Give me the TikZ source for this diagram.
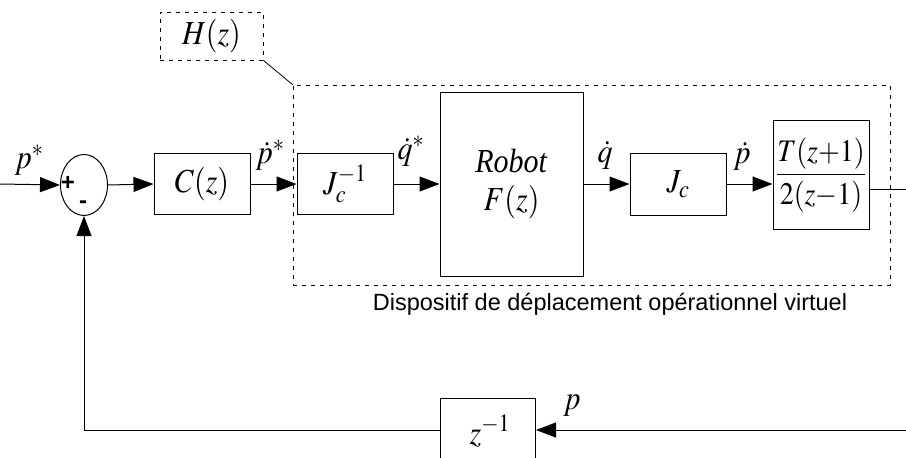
\documentclass[tikz,border=0pt]{standalone}
\usepackage{mathptmx}
\usepackage{graphicx}
\usepackage{fontspec}
\setmainfont{Liberation Serif}
\newfontfamily\arialfont{Liberation Sans}
\usetikzlibrary{shapes.geometric,arrows.meta}
\newcommand{\tallbox}[1]{\scalebox{1}[1.12]{#1}}
\tikzset{
  blk/.style={draw, line width=1pt, minimum width=96pt, minimum height=61pt, inner sep=0pt, font=\fontsize{30}{36}\selectfont},
  arr/.style={-{Triangle[length=20pt,width=15pt]}, line width=1pt},
  ln/.style={line width=1pt},
  lab/.style={inner sep=0pt, font=\fontsize{30}{36}\selectfont},
  dbox/.style={draw, line width=0.9pt, dash pattern=on 4pt off 5pt},
  sgn/.style={inner sep=0pt, font=\arialfont\bfseries\fontsize{24}{28}\selectfont}
}
\begin{document}
\begin{tikzpicture}[x=1pt,y=-1pt]
\useasboundingbox (0,0) rectangle (906,458);
\clip (0,0) rectangle (906,458);
% dashed frame and H(z)
\node[dbox, minimum width=597pt, minimum height=200pt, inner sep=0pt] (frame) at (591.5,185) {};
\node[dbox, minimum width=103pt, minimum height=48pt, inner sep=0pt, font=\fontsize{30}{36}\selectfont] (H) at (211.5,36) {\tallbox{$H(z)$}};
\draw[line width=0.8pt] (H.south east) -- (frame.north west);
\node[inner sep=0pt, font=\arialfont\fontsize{23.5}{28}\selectfont, anchor=base] (cap) at (610,310) {Dispositif de déplacement opérationnel virtuel};
% blocks
\node[draw, ellipse, line width=1pt, minimum width=47pt, minimum height=61pt, inner sep=0pt] (sum) at (84,185) {};
\node[sgn] (plus) at (68,183) {+};
\node[sgn] (minus) at (83,205) {-};
\node[blk] (C) at (202,184) {\tallbox{$C(z)$}};
\node[blk] (Ji) at (345,184) {\tallbox{$J_c^{-1}$}};
\node[blk, minimum width=143pt, minimum height=184pt, align=center] (R) at (511.5,184) {\tallbox{\textit{Robot}}\\[2pt]\tallbox{$F(z)$}};
\node[blk, minimum height=62pt] (Jc) at (678,184) {\tallbox{$J_c$}};
\node[blk, minimum height=109pt, font=\fontsize{28}{34}\selectfont] (T) at (821,175) {\tallbox{$\displaystyle\frac{T(z{+}1)}{2(z{-}1)}$}};
\node[blk, minimum width=95pt, minimum height=84pt, anchor=north] (D) at (488,398) {};
\node[lab] (Dt) at (490,431) {\tallbox{$z^{-1}$}};
% coordinates
\coordinate (in) at (0,184);
\coordinate (out) at (906,189);
\coordinate (fb) at (906,430);
% connectors
\draw[arr] (in) -- (sum.west);
\draw[arr] (sum.east) -- (C.west);
\draw[arr] (C.east) -- (Ji.west);
\draw[arr] (Ji.east) -- (R.west |- Ji.east);
\draw[arr] (R.east |- Jc.west) -- (Jc.west);
\draw[arr] (Jc.east) -- (T.west |- Jc.east);
\draw[ln] (T.east |- out) -- (out);
\draw[arr] (fb) -- (D.east |- fb);
\draw[arr] (D.west |- fb) -| (sum.south);
% signal labels
\node[lab] (l1) at (29,160) {\tallbox{$p^{*}$}};
\node[lab] (l2) at (270,155) {\tallbox{$\dot{p}^{*}$}};
\node[lab] (l3) at (411,151) {\tallbox{$\dot{q}^{*}$}};
\node[lab] (l4) at (605,155) {\tallbox{$\dot{q}$}};
\node[lab] (l5) at (742,156) {\tallbox{$\dot{p}$}};
\node[lab] (l6) at (572,406) {\tallbox{$p$}};
\end{tikzpicture}
\end{document}
